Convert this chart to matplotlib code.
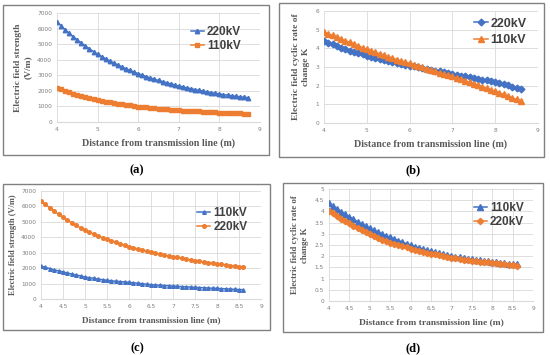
import numpy as np
import matplotlib
matplotlib.use("Agg")
import matplotlib.pyplot as plt
from matplotlib.patches import Rectangle

# ---------------- data ----------------
x_a = np.round(np.arange(4.0, 8.71, 0.1), 1)
x_bcd = np.round(np.arange(4.0, 8.61, 0.1), 1)

a_220 = [6450, 6180, 5930, 5700, 5480, 5270, 5070, 4880, 4700, 4520,
         4350, 4200, 4060, 3920, 3790, 3660, 3540, 3420, 3310, 3200,
         3100, 3010, 2920, 2830, 2750, 2670, 2590, 2520, 2450, 2380,
         2310, 2250, 2190, 2140, 2080, 2030, 1980, 1930, 1890, 1840,
         1800, 1760, 1720, 1690, 1650, 1620, 1590, 1560]
a_110 = [2200, 2100, 2006, 1916, 1830, 1748, 1669, 1594, 1522, 1454,
         1389, 1344, 1300, 1257, 1215, 1175, 1136, 1099, 1062, 1027,
         993, 966, 940, 915, 890, 866, 843, 820, 798, 776,
         755, 738, 722, 706, 690, 675, 660, 645, 631, 617,
         603, 592, 582, 572, 562, 552, 542, 532]

b_220 = [4.40, 4.30, 4.21, 4.12, 4.04, 3.96, 3.88, 3.81, 3.74, 3.67,
         3.60, 3.54, 3.48, 3.42, 3.37, 3.32, 3.27, 3.22, 3.17, 3.12,
         3.07, 3.03, 2.98, 2.94, 2.89, 2.85, 2.80, 2.76, 2.72, 2.67,
         2.63, 2.59, 2.54, 2.50, 2.46, 2.42, 2.37, 2.33, 2.29, 2.24,
         2.19, 2.13, 2.07, 2.01, 1.95, 1.88, 1.80]
b_110 = [4.88, 4.78, 4.69, 4.60, 4.50, 4.41, 4.32, 4.22, 4.13, 4.04,
         3.95, 3.87, 3.79, 3.71, 3.63, 3.55, 3.48, 3.40, 3.33, 3.26,
         3.19, 3.12, 3.05, 2.98, 2.91, 2.84, 2.77, 2.70, 2.63, 2.57,
         2.50, 2.42, 2.34, 2.26, 2.18, 2.10, 2.02, 1.94, 1.86, 1.78,
         1.70, 1.62, 1.53, 1.44, 1.35, 1.26, 1.18]

c_220 = [6360, 6130, 5910, 5700, 5490, 5290, 5110, 4940, 4770, 4610,
         4460, 4330, 4200, 4080, 3970, 3870, 3770, 3670, 3570, 3470,
         3380, 3300, 3230, 3160, 3090, 3020, 2960, 2900, 2850, 2790,
         2740, 2690, 2630, 2580, 2530, 2480, 2440, 2400, 2360, 2320,
         2280, 2240, 2210, 2170, 2140, 2100, 2070]
c_110 = [2130, 2050, 1970, 1890, 1820, 1750, 1680, 1620, 1560, 1490,
         1420, 1380, 1340, 1290, 1250, 1210, 1180, 1150, 1130, 1100,
         1080, 1050, 1020, 990, 960, 930, 910, 890, 870, 860,
         840, 820, 800, 790, 770, 750, 740, 730, 710, 700,
         690, 670, 660, 640, 630, 610, 600]

d_110 = [4.36, 4.23, 4.11, 3.99, 3.87, 3.76, 3.65, 3.54, 3.44, 3.34,
         3.24, 3.15, 3.07, 2.99, 2.91, 2.84, 2.77, 2.70, 2.63, 2.56,
         2.49, 2.43, 2.38, 2.32, 2.27, 2.22, 2.18, 2.13, 2.09, 2.05,
         2.01, 1.98, 1.95, 1.92, 1.89, 1.87, 1.84, 1.82, 1.79, 1.77,
         1.75, 1.73, 1.71, 1.69, 1.67, 1.66, 1.64]
d_220 = [4.04, 3.91, 3.79, 3.68, 3.57, 3.46, 3.36, 3.25, 3.15, 3.06,
         2.97, 2.89, 2.81, 2.74, 2.67, 2.60, 2.55, 2.49, 2.44, 2.39,
         2.34, 2.29, 2.25, 2.20, 2.16, 2.12, 2.08, 2.04, 2.01, 1.97,
         1.94, 1.91, 1.88, 1.85, 1.82, 1.79, 1.77, 1.75, 1.73, 1.72,
         1.70, 1.68, 1.66, 1.64, 1.62, 1.60, 1.58]

xticks_int = [4, 5, 6, 7, 8, 9]
xticks_half = [4, 4.5, 5, 5.5, 6, 6.5, 7, 7.5, 8, 8.5, 9]
yticks_field = [0, 1000, 2000, 3000, 4000, 5000, 6000, 7000]
yticks_b = [0, 1, 2, 3, 4, 5, 6]
yticks_d = [0, 0.5, 1, 1.5, 2, 2.5, 3, 3.5, 4, 4.5, 5]

xlabel = "Distance from transmission line (m)"
ylab_a = "Electric field strength\n(V/m)"
ylab_c = "Electric field strength (V/m)"
ylab_k = "Electric field cyclic rate of\nchange K"

BLUE = "#4472C4"
ORANGE = "#ED7D31"

W, H = 550, 355
fig = plt.figure(figsize=(W / 100, H / 100), dpi=100)
fig.patch.set_facecolor("white")


def fx(px):
    return px / W


def fy(py):
    return 1 - py / H


def frame(l, t, r, b):
    fig.patches.append(Rectangle((fx(l), fy(b)), fx(r - l), (b - t) / H,
                                 transform=fig.transFigure, fill=False,
                                 edgecolor="#808080", linewidth=1.0))


def make_axes(l, t, r, b):
    ax = fig.add_axes([fx(l), fy(b), fx(r - l), (b - t) / H])
    for s in ["top", "right", "left"]:
        ax.spines[s].set_visible(False)
    ax.spines["bottom"].set_color("#d9d9d9")
    ax.spines["bottom"].set_linewidth(0.8)
    ax.grid(True, color="#d9d9d9", linewidth=0.6)
    ax.set_axisbelow(True)
    ax.tick_params(length=0, labelsize=4.2, colors="#7f7f7f", pad=3.5)
    return ax


serif = ["Liberation Serif", "DejaVu Serif"]
sans = ["Liberation Sans", "DejaVu Sans"]


def style_labels(ax, xl, yl, xsize=7.2, ysize=6.8, ylpad=2):
    ax.set_xlabel(xl, family=serif, fontweight="bold", fontsize=xsize,
                  color="#595959", labelpad=5)
    ax.set_ylabel(yl, family=serif, fontweight="bold", fontsize=ysize,
                  color="#595959", labelpad=ylpad, linespacing=1.3)


def legend(ax, anchor, size=8.5, spacing=0.15):
    lg = ax.legend(loc="upper left", bbox_to_anchor=anchor, frameon=False,
                   prop={"family": sans, "size": size, "weight": "bold"},
                   handlelength=1.1, handletextpad=0.25, labelspacing=spacing,
                   borderaxespad=0, borderpad=0)
    for t in lg.get_texts():
        t.set_color("#404040")


# frames
frame(3, 5, 269, 155)
frame(279, 3, 544, 157)
frame(3, 184, 270, 330)
frame(283, 183, 543, 332)

# ---- (a)
ax = make_axes(57, 13, 260, 122)
ax.plot(x_a, a_220, color=BLUE, marker="^", markersize=3.2, linewidth=1.1, label="220kV")
ax.plot(x_a, a_110, color=ORANGE, marker="s", markersize=2.6, linewidth=1.1, label="110kV")
ax.set_xlim(4, 9)
ax.set_ylim(0, 7000)
ax.set_xticks(xticks_int)
ax.set_yticks(yticks_field)
style_labels(ax, xlabel, ylab_a, ylpad=4)
legend(ax, (0.66, 0.88))

# ---- (b)
ax = make_axes(324, 11, 538, 123)
ax.plot(x_bcd, b_220, color=BLUE, marker="D", markersize=3.4, linewidth=1.1, label="220kV")
ax.plot(x_bcd, b_110, color=ORANGE, marker="^", markersize=4.8, linewidth=1.1, label="110kV")
ax.set_xlim(4, 9)
ax.set_ylim(0, 6)
ax.set_xticks(xticks_int)
ax.set_yticks(yticks_b)
style_labels(ax, xlabel, ylab_k, ylpad=4)
legend(ax, (0.70, 0.94), size=9, spacing=0.35)

# ---- (c)
ax = make_axes(41, 191, 261, 299)
ax.plot(x_bcd, c_110, color=BLUE, marker="^", markersize=2.6, linewidth=1.1, label="110kV")
ax.plot(x_bcd, c_220, color=ORANGE, marker="o", markersize=2.6, linewidth=1.1, label="220kV")
ax.set_xlim(4, 9)
ax.set_ylim(0, 7000)
ax.set_xticks(xticks_half)
ax.set_xticklabels([f"{v:g}" for v in xticks_half])
ax.set_yticks(yticks_field)
style_labels(ax, xlabel, ylab_c, xsize=6.6, ysize=6.0, ylpad=3)
legend(ax, (0.71, 0.85))

# ---- (d)
ax = make_axes(329, 189, 533, 301)
ax.plot(x_bcd, d_110, color=BLUE, marker="^", markersize=4, linewidth=1.1, label="110kV")
ax.plot(x_bcd, d_220, color=ORANGE, marker="D", markersize=3.2, linewidth=1.1, label="220kV")
ax.set_xlim(4, 9)
ax.set_ylim(0, 5)
ax.set_xticks(xticks_half)
ax.set_xticklabels([f"{v:g}" for v in xticks_half])
ax.set_yticks(yticks_d)
ax.set_yticklabels([f"{v:g}" for v in yticks_d])
style_labels(ax, xlabel, ylab_k, xsize=6.8, ysize=6.4, ylpad=4)
legend(ax, (0.71, 0.88))

# panel letters
for txt, px, py in [("(a)", 137, 170), ("(b)", 413, 170), ("(c)", 137, 348), ("(d)", 413, 348)]:
    fig.text(fx(px), fy(py), txt, ha="center", va="center", family=serif,
             fontweight="bold", fontsize=9, color="black")

fig.savefig("out.png", dpi=100, facecolor="white")
